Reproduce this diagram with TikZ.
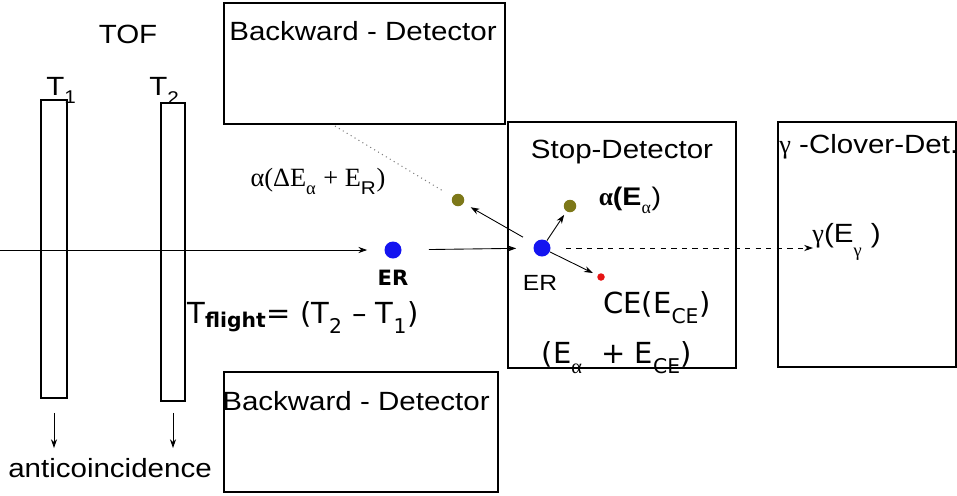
\documentclass[tikz,border=0pt]{standalone}
\usepackage{fontspec}
\setmainfont{Liberation Sans}[FakeStretch=1.12]
\newfontfamily\serif{Liberation Serif}
\newfontfamily\vsans{DejaVu Sans}
\usetikzlibrary{arrows.meta}
\definecolor{erblue}{RGB}{20,20,240}
\definecolor{aolive}{RGB}{125,120,25}
\definecolor{cered}{RGB}{230,20,20}
\newcommand{\lsub}[1]{\raisebox{-0.35ex}{\textsubscript{#1}}}

\begin{document}
\begin{tikzpicture}[x=0.02cm, y=-0.02cm,
  det/.style={draw, line width=1pt, inner sep=0pt},
  bar/.style={draw, line width=1pt, inner sep=0pt, minimum width=0.48cm, minimum height=5.96cm},
  dot/.style={circle, inner sep=0pt},
  lbl/.style={inner sep=0pt, anchor=base, font=\fontsize{15}{18}\selectfont},
  arr/.style={-{Stealth[length=5pt, width=3.5pt]}, line width=0.5pt}
]
  \useasboundingbox (0,0) rectangle (957,495);

  % detectors
  \node[det, minimum width=5.62cm, minimum height=2.42cm] (bwt)  at (364.5,63.5) {};
  \node[det, minimum width=5.48cm, minimum height=2.4cm]  (bwb)  at (361,432)    {};
  \node[det, minimum width=4.56cm, minimum height=4.92cm] (stop) at (622,245)    {};
  \node[det, minimum width=3.56cm, minimum height=4.9cm]  (clov) at (867,244.5)  {};
  \node[bar, minimum width=0.52cm] (t1) at (54,249)  {};
  \node[bar]                       (t2) at (173,252) {};

  \node[lbl] (tof)   at (128,43)  {TOF};
  \node[lbl] (bwtl)  at (363,40)  {Backward - Detector};
  \node[lbl] (bwbl)  at (356,410) {Backward - Detector};
  \node[lbl] (stopl) at (622,158) {Stop-Detector};
  \node[lbl, anchor=base west] (clovl) at (779,153) {{\serif γ} -Clover-Det.};
  \node[lbl, anchor=base west] (t1l) at (46,95)  {T\lsub{1}};
  \node[lbl, anchor=base west] (t2l) at (149,95) {T\lsub{2}};
  \node[lbl] (anti) at (110,477) {anticoincidence};

  % particles
  \node[dot, fill=erblue, minimum size=0.34cm] (er1) at (393,250) {};
  \node[dot, fill=erblue, minimum size=0.34cm] (er2) at (542,248) {};
  \node[dot, fill=aolive, minimum size=0.25cm] (a1)  at (458,200) {};
  \node[dot, fill=aolive, minimum size=0.25cm] (a2)  at (570,206) {};
  \node[dot, fill=cered,  minimum size=0.15cm] (ce)  at (601,277) {};

  \node[lbl, font=\vsans\bfseries\fontsize{12}{14}\selectfont] (er1l) at (393,285) {ER};
  \node[lbl, font=\fontsize{12.5}{14}\selectfont] (er2l) at (540,290) {ER};
  \node[lbl, font=\serif\fontsize{15}{18}\selectfont] (al1) at (318,186)
    {α(ΔE\lsub{α} + E\lsub{\rmfamily R})};
  \node[lbl, anchor=base west, font=\vsans\fontsize{16.5}{20}\selectfont] (tfl) at (187,323)
    {T\textsubscript{\bfseries flight}= (T\lsub{2} – T\lsub{1})};
  \node[lbl, font=\fontsize{14.5}{17}\selectfont] (al2) at (630,205)
    {{\serif\bfseries α}\textbf{(E}\lsub{\serif α})};
  \node[lbl, font=\vsans\fontsize{16.5}{20}\selectfont] (cel) at (657,313) {CE(E\lsub{CE})};
  \node[lbl, font=\vsans\fontsize{16.5}{20}\selectfont] (suml) at (617,363)
    {(E\lsub{\serif α}\ \ + E\lsub{CE})};
  \node[lbl, anchor=base west] (gl) at (812,242)
    {{\serif γ}(E\raisebox{-0.8ex}{\textsubscript{\serif γ}} )};

  \coordinate (src)  at (0,250);
  \coordinate (dtop) at (335,126);
  \coordinate (gtip) at (813,248);
  \coordinate (t1d)  at (54,448);
  \coordinate (t2d)  at (173,448);

  % tracks
  \draw[arr, shorten >=0.34cm] (src) -- (er1);
  \draw[arr, shorten <=0.54cm, shorten >=0.34cm] (er1) -- (er2);
  \draw[dotted, line width=0.6pt, gray, shorten >=0.2cm] (dtop) -- (a1);
  \draw[arr, shorten <=0.26cm, shorten >=0.16cm] (er2) -- (a1);
  \draw[arr, shorten >=0.08cm] (er2) -- (a2);
  \draw[arr, shorten >=0.1cm] (er2) -- (ce);
  \draw[arr, dashed, shorten <=0.3cm] (er2) -- (gtip);
  \draw[arr, shorten <=0.28cm] (t1.south) -- (t1d);
  \draw[arr, shorten <=0.22cm] (t2.south) -- (t2d);
\end{tikzpicture}
\end{document}
